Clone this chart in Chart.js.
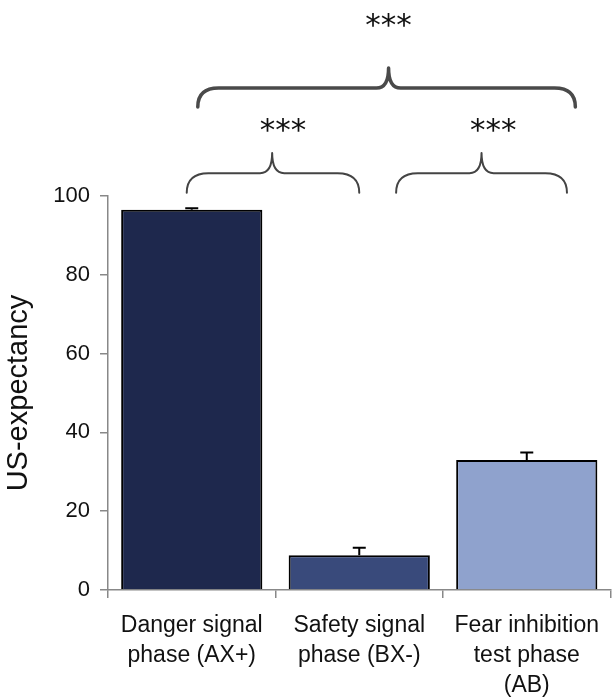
<!DOCTYPE html>
<html>
<head>
<meta charset="utf-8">
<script src="https://cdn.jsdelivr.net/npm/chart.js@4/dist/chart.umd.min.js"></script>
<style>
  html, body { margin: 0; padding: 0; background: #ffffff; }
  #wrap { width: 612px; height: 698px; position: relative; }
</style>
</head>
<body>
<div id="wrap"><canvas id="c" width="612" height="698"></canvas></div>
<script>
// ---- data ----
const categories = [
  ["Danger signal", "phase (AX+)"],
  ["Safety signal", "phase (BX-)"],
  ["Fear inhibition", "test phase", "(AB)"]
];
const means = [96.5, 8.8, 33.0];
const errors = [0.4, 1.9, 1.9];
const yTicks = [0, 20, 40, 60, 80, 100];
const sigPairs = [[0, 1], [1, 2], [0, 2]];
const sigLabels = ["***", "***", "***"];

// ---- styling / annotation geometry (not data) ----
const barColors = ["#1e284d", "#394a7b", "#8fa2cd"];
// bracket geometry in scale units: x = [from, to, peak, textX] (category index), y = [endY, lineY, peakY, textY] (value units)
const bracketGeom = [
  { x: [-0.03, 1.0, 0.48, 0.545], y: [100.8, 105.8, 110.9, 117.3], w: 2, color: "#444444" },
  { x: [1.22, 2.24, 1.73, 1.80], y: [100.8, 105.8, 110.9, 117.3], w: 2, color: "#444444" },
  { x: [0.036, 2.29, 1.175, 1.175], y: [122.6, 127.4, 132.5, 143.9], w: 3.5, color: "#4a4a4a" }
];

const errorBarPlugin = {
  id: "errorBars",
  afterDatasetsDraw(chart) {
    const ctx = chart.ctx;
    const meta = chart.getDatasetMeta(0);
    const ys = chart.scales.y;
    ctx.save();
    ctx.strokeStyle = "#000";
    ctx.lineWidth = 2;
    meta.data.forEach((bar, i) => {
      const x = bar.x;
      const y0 = ys.getPixelForValue(means[i]);
      const y1 = ys.getPixelForValue(means[i] + errors[i]);
      ctx.beginPath();
      ctx.moveTo(x, y0);
      ctx.lineTo(x, y1);
      ctx.moveTo(x - 6.5, y1);
      ctx.lineTo(x + 6.5, y1);
      ctx.stroke();
    });
    ctx.restore();
  }
};

const bracketPlugin = {
  id: "brackets",
  afterDraw(chart) {
    const ctx = chart.ctx;
    const xs = chart.scales.x, ys = chart.scales.y;
    ctx.save();
    sigPairs.forEach((pair, i) => {
      const g = bracketGeom[i];
      const x0 = xs.getPixelForValue(g.x[0]);
      const x1 = xs.getPixelForValue(g.x[1]);
      const xp = xs.getPixelForValue(g.x[2]);
      const xt = xs.getPixelForValue(g.x[3]);
      const yE = ys.getPixelForValue(g.y[0]);
      const yL = ys.getPixelForValue(g.y[1]);
      const yP = ys.getPixelForValue(g.y[2]);
      const yT = ys.getPixelForValue(g.y[3]);
      const rEnd = (yE - yL) * 1.1;
      const rPk = (yL - yP) * 0.6;
      ctx.strokeStyle = g.color;
      ctx.lineWidth = g.w;
      ctx.lineCap = "round";
      ctx.lineJoin = "round";
      ctx.beginPath();
      ctx.moveTo(x0, yE);
      ctx.quadraticCurveTo(x0, yL, x0 + rEnd, yL);
      ctx.lineTo(xp - rPk, yL);
      ctx.quadraticCurveTo(xp, yL, xp, yP);
      ctx.quadraticCurveTo(xp, yL, xp + rPk, yL);
      ctx.lineTo(x1 - rEnd, yL);
      ctx.quadraticCurveTo(x1, yL, x1, yE);
      ctx.stroke();
      ctx.fillStyle = "#111";
      ctx.font = "31px 'DejaVu Sans'";
      ctx.textAlign = "center";
      ctx.textBaseline = "middle";
      ctx.fillText(sigLabels[i], xt, yT + 4);
    });
    ctx.restore();
  }
};

new Chart(document.getElementById("c"), {
  type: "bar",
  data: {
    labels: categories,
    datasets: [{
      data: means,
      backgroundColor: barColors,
      borderColor: "#000000",
      borderWidth: 2,
      borderSkipped: "start",
      barPercentage: 0.843,
      categoryPercentage: 1.0
    }]
  },
  options: {
    responsive: false,
    animation: false,
    devicePixelRatio: 1,
    layout: { padding: { top: 196, right: 0, bottom: 0, left: 0 } },
    plugins: { legend: { display: false }, tooltip: { enabled: false } },
    scales: {
      x: {
        offset: true,
        afterFit(s) { s.height = 108; },
        grid: { display: true, drawOnChartArea: false, offset: true, tickLength: 8, color: "#888888", lineWidth: 1.5 },
        border: { display: true, color: "#888888", width: 1.5 },
        ticks: {
          color: "#111111",
          font: { family: "'Liberation Sans', Arial", size: 23, lineHeight: 1.3 },
          padding: 13,
          maxRotation: 0,
          autoSkip: false
        }
      },
      y: {
        min: 0,
        max: 100,
        afterFit(s) { s.width = 108; },
        afterBuildTicks(s) { s.ticks = yTicks.map(v => ({ value: v })); },
        grid: { display: true, drawOnChartArea: false, tickLength: 8, color: "#888888", lineWidth: 1.5 },
        border: { display: true, color: "#888888", width: 1.5 },
        ticks: {
          color: "#111111",
          font: { family: "'Liberation Sans', Arial", size: 22 },
          padding: 10
        },
        title: {
          display: true,
          text: "US-expectancy",
          color: "#111111",
          font: { family: "'Liberation Sans', Arial", size: 29 },
          padding: { top: 2, bottom: 0 }
        }
      }
    }
  },
  plugins: [errorBarPlugin, bracketPlugin]
});
</script>
</body>
</html>
